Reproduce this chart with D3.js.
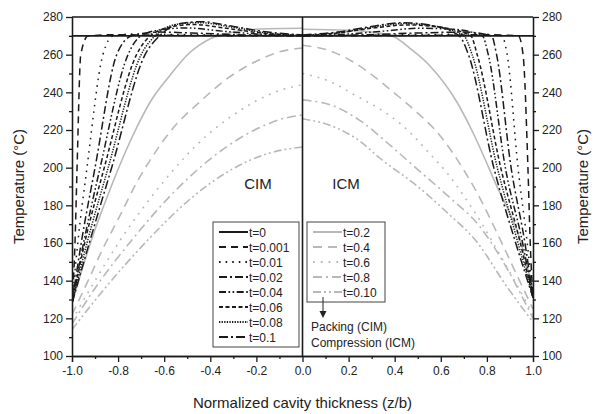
<!DOCTYPE html>
<html>
<head>
<meta charset="utf-8">
<script src="https://cdn.jsdelivr.net/npm/d3@7"></script>
<style>
body { margin: 0; background: #fff; }
text { font-family: "Liberation Sans", Arial, sans-serif; fill: #222; }
</style>
</head>
<body>
<svg id="chart" width="594" height="414"></svg>
<script>

// tick values
let xTicks = [-1.0, -0.8, -0.6, -0.4, -0.2, 0.0, 0.2, 0.4, 0.6, 0.8, 1.0];
let yTicks = [100, 120, 140, 160, 180, 200, 220, 240, 260, 280];

// legend labels
let blackLabels = ["t=0", "t=0.001", "t=0.01", "t=0.02", "t=0.04", "t=0.06", "t=0.08", "t=0.1"];
let grayLabels = ["t=0.2", "t=0.4", "t=0.6", "t=0.8", "t=0.10"];

// CIM half (packing), [z/b, T]
let cimBlack = [
    [[-1, 270], [0, 270]],
    [[-1, 128], [-0.987, 160], [-0.978, 200], [-0.962, 260], [-0.93, 270], [-0.8, 270.6], [-0.6, 270.3], [0, 270]],
    [[-1, 128], [-0.975, 160], [-0.935, 200], [-0.866, 260], [-0.82, 270], [-0.72, 271], [-0.55, 270.7], [0, 270]],
    [[-1, 128], [-0.96, 160], [-0.9, 200], [-0.806, 260], [-0.74, 270], [-0.62, 272], [-0.48, 271.5], [-0.25, 270.5], [0, 270]],
    [[-1, 128], [-0.95, 160], [-0.878, 200], [-0.757, 260], [-0.7, 270], [-0.6, 273.5], [-0.5, 274.2], [-0.35, 272.5], [-0.2, 271], [0, 270]],
    [[-1, 128], [-0.945, 160], [-0.86, 200], [-0.72, 260], [-0.66, 270], [-0.56, 275], [-0.47, 276], [-0.33, 274], [-0.18, 271.5], [0, 270]],
    [[-1, 128], [-0.935, 160], [-0.843, 200], [-0.7, 260], [-0.64, 270], [-0.55, 276], [-0.45, 277], [-0.3, 274.5], [-0.15, 271.5], [0, 270.3]],
    [[-1, 128], [-0.925, 160], [-0.828, 200], [-0.683, 260], [-0.62, 270], [-0.53, 276.5], [-0.44, 277.5], [-0.3, 275], [-0.15, 272], [0, 270.5]]
];
let cimGray = [
    [[-1, 128], [-0.92, 160], [-0.83, 190], [-0.74, 216], [-0.66, 235], [-0.575, 249], [-0.49, 261], [-0.4, 268.5], [-0.3, 272], [-0.15, 273.8], [0, 274]],
    [[-1, 122], [-0.93, 140], [-0.866, 157], [-0.79, 175], [-0.72, 192], [-0.645, 207], [-0.575, 219], [-0.445, 235], [-0.33, 247], [-0.2, 256.5], [-0.1, 261.5], [0, 263.5]],
    [[-1, 119], [-0.9, 140], [-0.79, 161.6], [-0.6, 193], [-0.416, 217], [-0.3, 228], [-0.2, 235.5], [-0.1, 241], [0, 244]],
    [[-1, 117], [-0.9, 136], [-0.74, 161.6], [-0.55, 188], [-0.33, 211], [-0.2, 220.5], [-0.1, 225.5], [0, 228]],
    [[-1, 114], [-0.85, 137], [-0.66, 163], [-0.5, 182], [-0.315, 198.5], [-0.15, 207.5], [0, 211]]
];

// ICM half (compression)
let icmBlack = [
    [[0, 270], [1, 270]],
    [[0, 270], [0.6, 270.3], [0.8, 270.6], [0.936, 270], [0.957, 260], [0.978, 200], [0.988, 160], [1, 131]],
    [[0, 270], [0.55, 270.7], [0.75, 271], [0.864, 270], [0.888, 260], [0.935, 200], [0.975, 160], [1, 131]],
    [[0, 270], [0.25, 270.5], [0.5, 271.5], [0.7, 272], [0.82, 270], [0.842, 260], [0.905, 200], [0.965, 160], [1, 131]],
    [[0, 270], [0.2, 271], [0.35, 272.5], [0.5, 274], [0.65, 273.5], [0.78, 270], [0.806, 260], [0.88, 200], [0.955, 160], [1, 131]],
    [[0, 270], [0.15, 271.5], [0.3, 274], [0.45, 275.8], [0.6, 274.5], [0.73, 270], [0.758, 260], [0.86, 200], [0.945, 160], [1, 131]],
    [[0, 270.3], [0.15, 271.5], [0.3, 274.5], [0.44, 276.5], [0.58, 275], [0.7, 270], [0.736, 260], [0.845, 200], [0.935, 160], [1, 131]],
    [[0, 270.5], [0.15, 272], [0.3, 275], [0.43, 277], [0.56, 275.5], [0.68, 270], [0.72, 260], [0.83, 200], [0.925, 160], [1, 131]]
];
let icmGray = [
    [[0, 273.5], [0.2, 273], [0.3, 272], [0.394, 269.6], [0.47, 263], [0.553, 254], [0.669, 235], [0.734, 220], [0.84, 191], [0.944, 161.6], [1, 135]],
    [[0, 265], [0.12, 262], [0.235, 255], [0.32, 247.5], [0.4, 239.5], [0.5, 229], [0.597, 217], [0.683, 202], [0.756, 187], [0.857, 162], [0.93, 143], [1, 125]],
    [[0, 250], [0.133, 245], [0.22, 239], [0.35, 230], [0.423, 223.5], [0.48, 217], [0.54, 209], [0.625, 197.5], [0.697, 185.5], [0.77, 172], [0.827, 160], [0.92, 140], [1, 122]],
    [[0, 236], [0.15, 232], [0.25, 225], [0.365, 213.5], [0.5, 199], [0.64, 184], [0.77, 168.6], [0.88, 148], [1, 120]],
    [[0, 226], [0.15, 221], [0.25, 214], [0.336, 205], [0.5, 190], [0.62, 177], [0.76, 160], [0.88, 138], [1, 118]]
];

// line styles
let blackDash = [null, "7,5", "1.6,5", "8,3,2,3", "7,2.5,1.6,2.5,1.6,2.5", "4,2.5", "1.3,1.3", "9,3,2,3"];
let grayDash = [null, "9,6", "1.8,6", "9,4,2,4", "8,3,2,3,2,3"];
let grayColor = "#b8b8b8";
let darkColor = "#1a1a1a";

let width = 594;
let height = 414;
let margin = {top: 17, right: 61, bottom: 58, left: 72};

let svg = d3.select("#chart");

let x = d3.scaleLinear().domain([-1, 1]).range([margin.left, width - margin.right]);
let y = d3.scaleLinear().domain([100, 280]).range([height - margin.bottom, margin.top]);

svg.append("clipPath").attr("id", "plotclip")
    .append("rect")
    .attr("x", x(-1)).attr("y", y(280))
    .attr("width", x(1) - x(-1)).attr("height", y(100) - y(280));

let line = d3.line()
    .x(d => x(d[0]))
    .y(d => y(d[1]))
    .curve(d3.curveMonotoneX);

let plot = svg.append("g").attr("clip-path", "url(#plotclip)");

function drawSeries(curves, color, dashes, sw) {
    plot.append("g").selectAll("path")
        .data(curves)
        .join("path")
            .attr("d", line)
            .attr("fill", "none")
            .attr("stroke", color)
            .attr("stroke-width", sw)
            .attr("stroke-dasharray", (d, i) => dashes[i]);
}

drawSeries(cimGray, grayColor, grayDash, 1.6);
drawSeries(icmGray, grayColor, grayDash, 1.6);
drawSeries(cimBlack.slice(1), darkColor, blackDash.slice(1), 1.5);
drawSeries(icmBlack.slice(1), darkColor, blackDash.slice(1), 1.5);
drawSeries([cimBlack[0], icmBlack[0]], darkColor, [null, null], 1.6);

// frame: top line and centre divider
svg.append("line")
    .attr("x1", x(-1)).attr("x2", x(1))
    .attr("y1", y(280)).attr("y2", y(280))
    .attr("stroke", darkColor).attr("stroke-width", 1.3);
svg.append("line")
    .attr("x1", x(0)).attr("x2", x(0))
    .attr("y1", y(100)).attr("y2", y(280))
    .attr("stroke", darkColor).attr("stroke-width", 1.6);

// minor tick positions between the major ones
let xMinor = d3.range(xTicks.length - 1).map(i => (xTicks[i] + xTicks[i + 1]) / 2);
let yMinor = d3.range(yTicks.length - 1).map(i => (yTicks[i] + yTicks[i + 1]) / 2);

function styleAxis(g) {
    g.selectAll("path").attr("stroke", darkColor).attr("stroke-width", 1.3);
    g.selectAll("line").attr("stroke", darkColor).attr("stroke-width", 1.3);
    g.selectAll("text").attr("font-size", 12).style("font-family", "'Liberation Sans', Arial, sans-serif").attr("fill", "#222");
}

let gx = svg.append("g").attr("transform", `translate(0,${y(100)})`)
    .call(d3.axisBottom(x).tickValues(xTicks).tickFormat(d => d.toFixed(1)).tickSize(6).tickPadding(4));
styleAxis(gx);
let gxm = svg.append("g").attr("transform", `translate(0,${y(100)})`)
    .call(d3.axisBottom(x).tickValues(xMinor).tickFormat("").tickSize(3).tickSizeOuter(0));
styleAxis(gxm);

let gy = svg.append("g").attr("transform", `translate(${x(-1)},0)`)
    .call(d3.axisLeft(y).tickValues(yTicks).tickSize(6).tickPadding(3).tickSizeOuter(0));
styleAxis(gy);
let gym = svg.append("g").attr("transform", `translate(${x(-1)},0)`)
    .call(d3.axisLeft(y).tickValues(yMinor).tickFormat("").tickSize(3).tickSizeOuter(0));
styleAxis(gym);

let gy2 = svg.append("g").attr("transform", `translate(${x(1)},0)`)
    .call(d3.axisRight(y).tickValues(yTicks).tickSize(6).tickPadding(3).tickSizeOuter(0));
styleAxis(gy2);
let gy2m = svg.append("g").attr("transform", `translate(${x(1)},0)`)
    .call(d3.axisRight(y).tickValues(yMinor).tickFormat("").tickSize(3).tickSizeOuter(0));
styleAxis(gy2m);

// axis titles
svg.append("text")
    .attr("x", (x(-1) + x(1)) / 2).attr("y", 408)
    .attr("text-anchor", "middle").attr("font-size", 15)
    .text("Normalized cavity thickness (z/b)");
svg.append("text")
    .attr("transform", `translate(24,${(y(100) + y(280)) / 2}) rotate(-90)`)
    .attr("text-anchor", "middle").attr("font-size", 15)
    .text("Temperature (\u00B0C)");
svg.append("text")
    .attr("transform", `translate(588,${(y(100) + y(280)) / 2}) rotate(-90)`)
    .attr("text-anchor", "middle").attr("font-size", 15)
    .text("Temperature (\u00B0C)");

// region labels
svg.append("text").attr("x", 258).attr("y", 189).attr("text-anchor", "middle")
    .attr("font-size", 15).text("CIM");
svg.append("text").attr("x", 346).attr("y", 189).attr("text-anchor", "middle")
    .attr("font-size", 15).text("ICM");

// legends
function legend(x0, y0, w, labels, color, dashes) {
    let n = labels.length;
    let g = svg.append("g").attr("transform", `translate(${x0},${y0})`);
    g.append("rect")
        .attr("width", w).attr("height", n * 15 + 5)
        .attr("fill", "#fff").attr("stroke", "#444").attr("stroke-width", 1);
    let rows = g.selectAll("g.row").data(labels).join("g")
        .attr("class", "row")
        .attr("transform", (d, i) => `translate(0,${10 + i * 15})`);
    rows.append("line")
        .attr("x1", 6).attr("x2", 35).attr("y1", 0).attr("y2", 0)
        .attr("stroke", color).attr("stroke-width", 2)
        .attr("stroke-dasharray", (d, i) => dashes[i]);
    rows.append("text")
        .attr("x", 36).attr("y", 4.5).attr("font-size", 12)
        .text(d => d);
}
legend(213, 222, 86, blackLabels, darkColor, blackDash);
legend(307, 222, 78, grayLabels, grayColor, grayDash);

// arrow to the process labels
svg.append("line")
    .attr("x1", 323).attr("x2", 323).attr("y1", 297).attr("y2", 312)
    .attr("stroke", "#222").attr("stroke-width", 1);
svg.append("path")
    .attr("d", "M319.5,311 L326.5,311 L323,318 Z")
    .attr("fill", "#222");
svg.append("text").attr("x", 311).attr("y", 331).attr("font-size", 12).text("Packing (CIM)");
svg.append("text").attr("x", 311).attr("y", 347).attr("font-size", 12).text("Compression (ICM)");

</script>
</body>
</html>
